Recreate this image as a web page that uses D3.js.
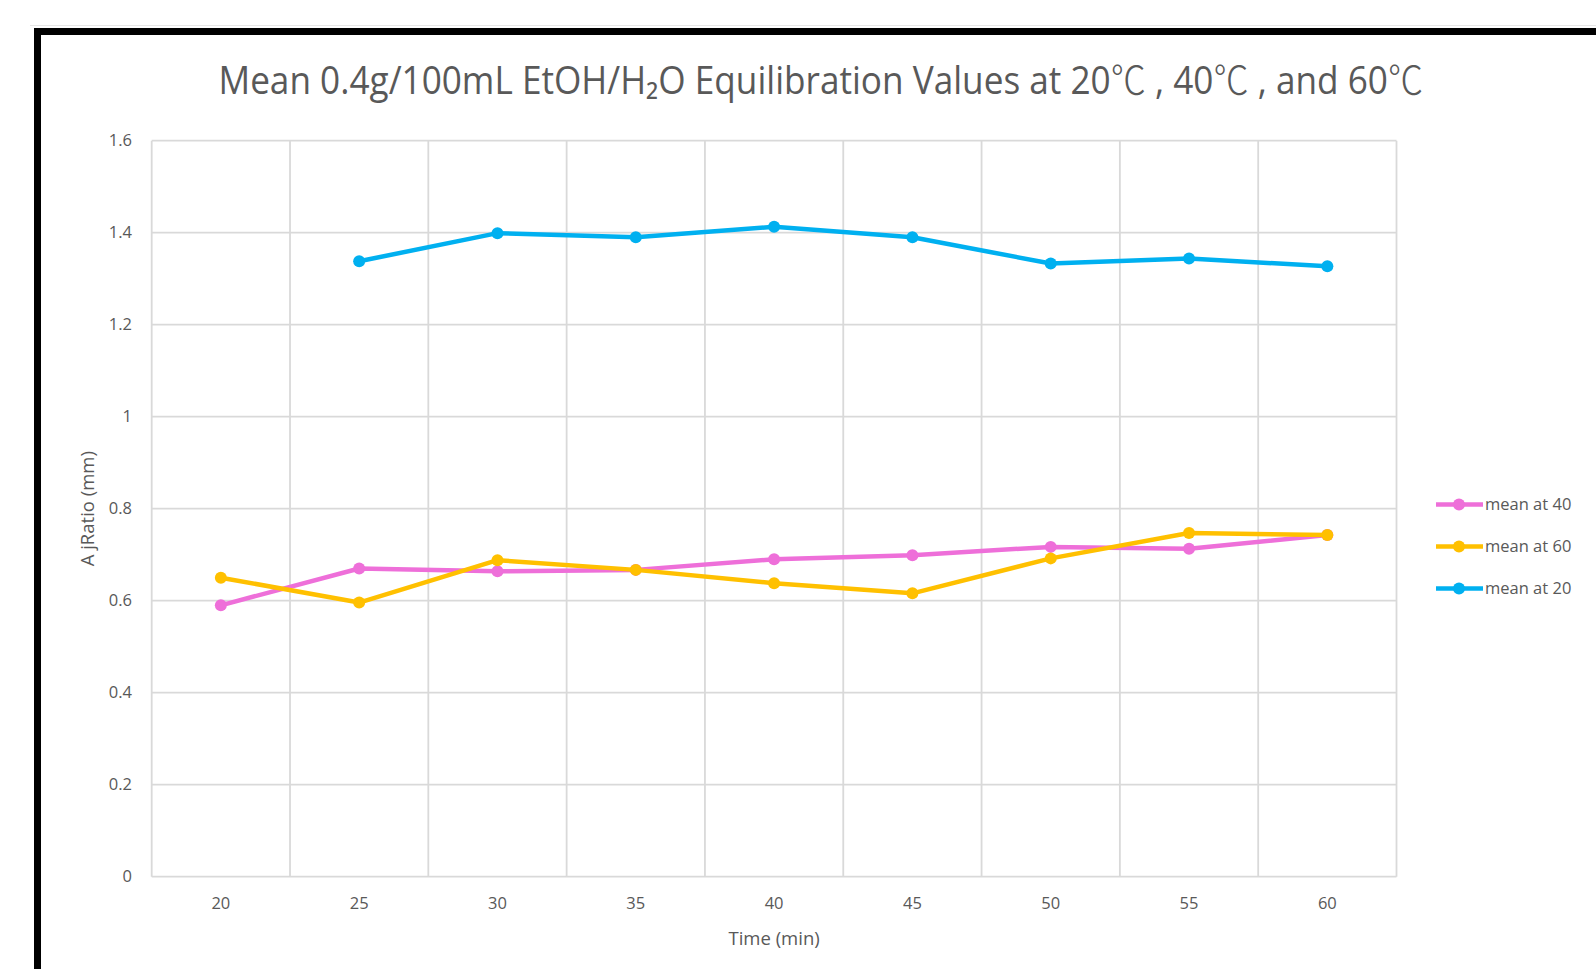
<!DOCTYPE html>
<html>
<head>
<meta charset="utf-8">
<script src="https://cdn.jsdelivr.net/npm/d3@7"></script>
<style>
  html, body { margin: 0; padding: 0; background: #fff; }
  svg { display: block; }
</style>
</head>
<body>
<svg id="chart"></svg>
<script>
// data
const times = ['20', '25', '30', '35', '40', '45', '50', '55', '60'];
const mean40 = [0.590, 0.670, 0.664, 0.667, 0.690, 0.699, 0.717, 0.713, 0.743];
const mean60 = [0.650, 0.596, 0.688, 0.667, 0.638, 0.616, 0.692, 0.747, 0.743];
const mean20 = [null, 1.338, 1.399, 1.390, 1.413, 1.390, 1.333, 1.344, 1.327];
const seriesNames = ['mean at 40', 'mean at 60', 'mean at 20'];
const seriesColors = ['#ee6fd9', '#ffc000', '#00b0f0'];
const yTicks = [0, 0.2, 0.4, 0.6, 0.8, 1, 1.2, 1.4, 1.6];
const titleParts = ['Mean 0.4g/100mL EtOH/H₂O Equilibration Values at 20', '℃', ' , 40', '℃', ' , and 60', '℃'];

const W = 1596, H = 969;
const plot = { left: 151.7, right: 1396.5, top: 140.7, bottom: 876.7 };
const textColor = '#595959';
const font = "'Open Sans', 'Noto Sans', sans-serif";

const svg = d3.select('#chart').
  attr('width', W).
  attr('height', H).
  attr('font-family', font);

// frame
svg.append('line').
  attr('x1', 30).attr('x2', W).attr('y1', 25.5).attr('y2', 25.5).
  attr('stroke', '#e6e6e6').attr('stroke-width', 1);
svg.append('rect').
  attr('x', 34).attr('y', 28).attr('width', W - 34).attr('height', 7).
  attr('fill', '#000');
svg.append('rect').
  attr('x', 34).attr('y', 28).attr('width', 7).attr('height', H - 28).
  attr('fill', '#000');

const x = d3.scaleBand().
  domain(times).
  range([plot.left, plot.right]).
  padding(0);

const y = d3.scaleLinear().
  domain([0, 1.6]).
  range([plot.bottom, plot.top]);

// grid
const grid = svg.append('g').attr('class', 'grid');
grid.selectAll('line.h').
  data(yTicks).
  enter().append('line').
  attr('class', 'h').
  attr('x1', plot.left).attr('x2', plot.right).
  attr('y1', d => y(d)).attr('y2', d => y(d)).
  attr('stroke', '#d9d9d9').attr('stroke-width', 1.8);
const bounds = times.map(t => x(t)).concat([plot.right]);
grid.selectAll('line.v').
  data(bounds).
  enter().append('line').
  attr('class', 'v').
  attr('x1', d => d).attr('x2', d => d).
  attr('y1', plot.top).attr('y2', plot.bottom).
  attr('stroke', '#d9d9d9').attr('stroke-width', 1.8);

// y axis labels
svg.append('g').
  selectAll('text').
  data(yTicks).
  enter().append('text').
  attr('x', 132).
  attr('y', d => y(d)).
  attr('dy', '0.35em').
  attr('text-anchor', 'end').
  attr('font-size', 16.5).
  attr('fill', textColor).
  text(d => d3.format('~g')(d));

// x axis labels
svg.append('g').
  selectAll('text').
  data(times).
  enter().append('text').
  attr('x', d => x(d) + x.bandwidth() / 2).
  attr('y', 903.5).
  attr('dy', '0.35em').
  attr('text-anchor', 'middle').
  attr('font-size', 16.5).
  attr('fill', textColor).
  text(d => d);

// axis titles
svg.append('text').
  attr('x', x('40') + x.bandwidth() / 2).
  attr('y', 938.5).
  attr('dy', '0.35em').
  attr('text-anchor', 'middle').
  attr('font-size', 18.5).
  attr('fill', textColor).
  text('Time (min)');

svg.append('text').
  attr('transform', `translate(88, ${(plot.top + plot.bottom) / 2}) rotate(-90)`).
  attr('dy', '0.35em').
  attr('text-anchor', 'middle').
  attr('font-size', 18.5).
  attr('fill', textColor).
  text('A jRatio (mm)');

// title: tall, narrow face like the original, squeezed to its width
const titleG = svg.append('g');
const title = titleG.append('text').
  attr('y', 94.5).
  attr('font-size', 39).
  attr('fill', textColor);
title.selectAll('tspan').
  data(titleParts).
  enter().append('tspan').
  attr('font-family', d => d === '℃' ? "'Noto Sans CJK SC', sans-serif" : null).
  attr('font-weight', d => d === '℃' ? 300 : null).
  text(d => d);
const tw = title.node().getComputedTextLength();
const sx = 1205 / tw;
titleG.attr('transform', `translate(${821 - 1205 / 2}, 0) scale(${sx}, 1)`);

// lines
const allSeries = [mean40, mean60, mean20];
const line = d3.line().
  defined(d => d != null).
  x((d, i) => x(times[i]) + x.bandwidth() / 2).
  y(d => y(d));

allSeries.forEach((vals, k) => {
  const g = svg.append('g').attr('class', 'series');
  g.append('path').
    datum(vals).
    attr('d', line).
    attr('fill', 'none').
    attr('stroke', seriesColors[k]).
    attr('stroke-width', 4.5).
    attr('stroke-linejoin', 'round');
  g.selectAll('circle').
    data(vals.map((v, i) => ({ v, i })).filter(d => d.v != null)).
    enter().append('circle').
    attr('cx', d => x(times[d.i]) + x.bandwidth() / 2).
    attr('cy', d => y(d.v)).
    attr('r', 6).
    attr('fill', seriesColors[k]);
});

// legend
const legend = svg.append('g').attr('class', 'legend');
seriesNames.forEach((name, k) => {
  const ly = 504.5 + k * 42;
  legend.append('line').
    attr('x1', 1436).attr('x2', 1483).
    attr('y1', ly).attr('y2', ly).
    attr('stroke', seriesColors[k]).
    attr('stroke-width', 4.5);
  legend.append('circle').
    attr('cx', 1459).attr('cy', ly).attr('r', 6).
    attr('fill', seriesColors[k]);
  legend.append('text').
    attr('x', 1485).
    attr('y', ly).
    attr('dy', '0.35em').
    attr('font-size', 16.5).
    attr('fill', textColor).
    text(name);
});
</script>
</body>
</html>
